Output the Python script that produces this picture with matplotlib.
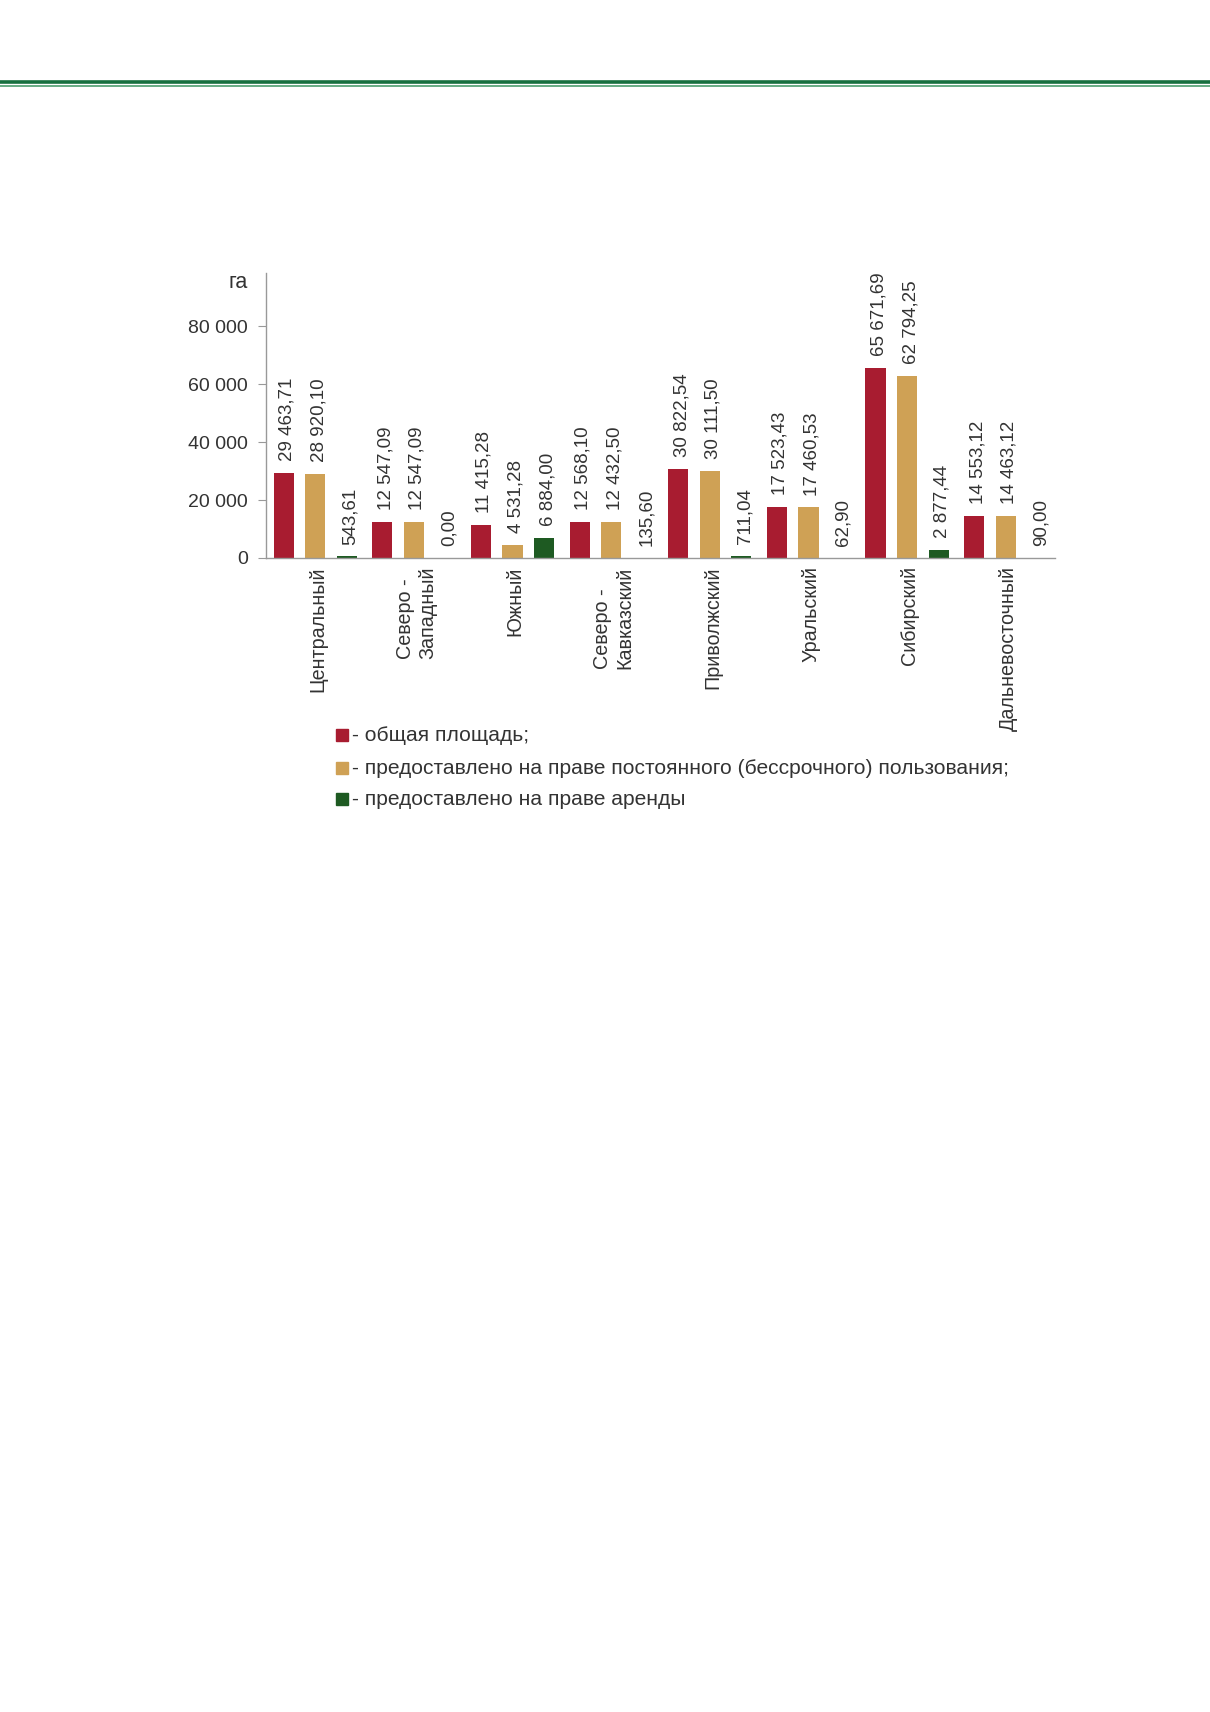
import matplotlib
matplotlib.use("Agg")
import matplotlib.pyplot as plt
import numpy as np
from matplotlib.lines import Line2D

regions = ["Центральный", "Северо -\nЗападный", "Южный", "Северо -\nКавказский",
           "Приволжский", "Уральский", "Сибирский", "Дальневосточный"]
total_area = [29463.71, 12547.09, 11415.28, 12568.10, 30822.54, 17523.43, 65671.69, 14553.12]
permanent_use = [28920.10, 12547.09, 4531.28, 12432.50, 30111.50, 17460.53, 62794.25, 14463.12]
lease = [543.61, 0.00, 6884.00, 135.60, 711.04, 62.90, 2877.44, 90.00]
yticks = [0, 20000, 40000, 60000, 80000]
ytick_labels = ["0", "20 000", "40 000", "60 000", "80 000"]
legend_labels = ["- общая площадь;",
                 "- предоставлено на праве постоянного (бессрочного) пользования;",
                 "- предоставлено на праве аренды"]
unit_label = "га"

RED = "#A81C30"
GOLD = "#CFA155"
GREEN = "#1E5A22"
TXT = "#333333"

plt.rcParams['font.family'] = ['Liberation Sans', 'DejaVu Sans']

W, H = 1210, 1712
fig = plt.figure(figsize=(W / 100, H / 100), dpi=100)

# top decorative green lines
fig.add_artist(Line2D([0, 1], [1 - 81.5 / H, 1 - 81.5 / H], color="#17703F", lw=2.6, transform=fig.transFigure))
fig.add_artist(Line2D([0, 1], [1 - 85.8 / H, 1 - 85.8 / H], color="#4E9E70", lw=1.2, transform=fig.transFigure))

ax_l, ax_r, ax_b, ax_t = 266, 1055, 558, 273
ax = fig.add_axes([ax_l / W, 1 - ax_b / H, (ax_r - ax_l) / W, (ax_b - ax_t) / H])

x = np.arange(len(regions))
off = 0.32
bw = 0.205
series = [(total_area, RED, -off), (permanent_use, GOLD, 0.0), (lease, GREEN, off)]


def fmt(v):
    s = f"{v:,.2f}"
    return s.replace(",", " ").replace(".", ",")


for vals, col, dx in series:
    ax.bar(x + dx, vals, width=bw, color=col, edgecolor="none")
    for xi, v in zip(x + dx, vals):
        ax.annotate(fmt(v), (xi, v), xytext=(2.5, 8.5), textcoords="offset points",
                    rotation=90, ha="center", va="bottom", fontsize=13.5, color=TXT)

ax.set_xlim(-0.5, len(regions) - 0.5)
ax.set_ylim(0, 98300)
ax.set_yticks(yticks)
ax.set_yticklabels(ytick_labels, fontsize=14, color=TXT)
ax.tick_params(axis="y", length=6, width=0.8, color="#999999", pad=7)
ax.set_xticks([])
for s in ["top", "right"]:
    ax.spines[s].set_visible(False)
for s in ["left", "bottom"]:
    ax.spines[s].set_color("#999999")
    ax.spines[s].set_linewidth(1.0)

# category labels
for xi, lab in zip(x, regions):
    ax.annotate(lab, (xi, 0), xytext=(2, -6), textcoords="offset points",
                rotation=90, ha="center", va="top", fontsize=14.2, color=TXT,
                multialignment="left", linespacing=1.25)

# unit label
fig.text(248 / W, 1 - 282 / H, unit_label, ha="right", va="center", fontsize=15.5, color=TXT)

# legend
leg_y = [735, 768, 799]
for yy, col, lab in zip(leg_y, [RED, GOLD, GREEN], legend_labels):
    fig.patches.append(plt.Rectangle((336 / W, 1 - (yy + 6) / H), 12 / W, 12 / H,
                                     transform=fig.transFigure, color=col))
    fig.text(352 / W, 1 - yy / H, lab, ha="left", va="center", fontsize=15.1, color=TXT)

fig.savefig("out.png", dpi=100, facecolor="white")
